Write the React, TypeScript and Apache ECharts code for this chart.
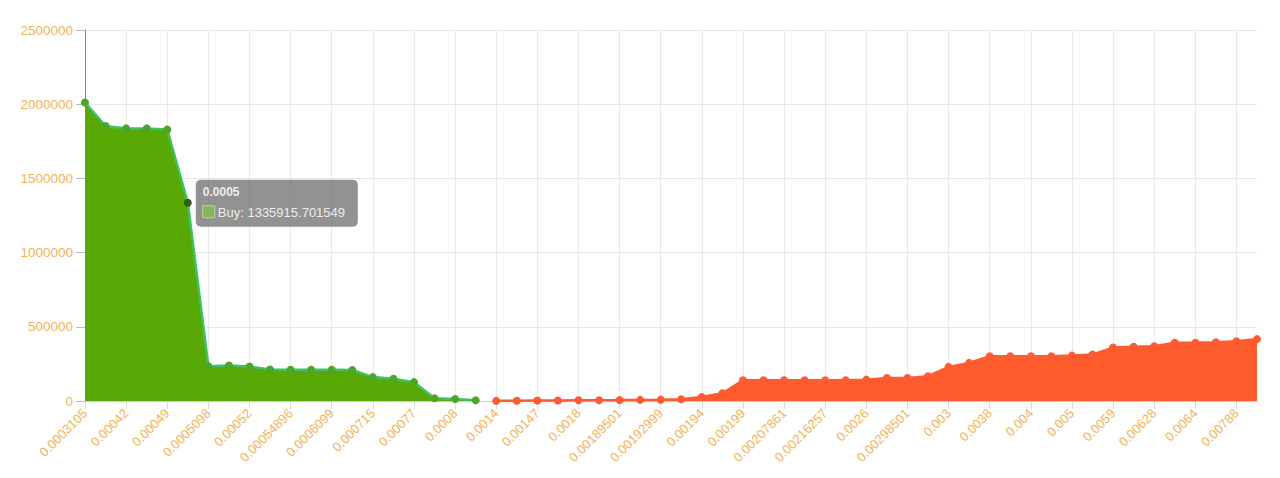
import React, { useEffect, useRef } from "react";
import * as echarts from "echarts";

const categories = [
  "0.0003105", "0.0004", "0.00042", "0.00045", "0.00049", "0.0005", "0.0005098", "0.00051",
  "0.00052", "0.00054", "0.00054896", "0.0006", "0.0006099", "0.0007", "0.000715", "0.00075",
  "0.00077", "0.00078", "0.0008", "0.00085", "0.0014", "0.00145", "0.00147", "0.0015",
  "0.0018", "0.00189", "0.00189501", "0.0019", "0.00192999", "0.00193", "0.00194", "0.00195",
  "0.00199", "0.002", "0.00207861", "0.0021", "0.00216257", "0.0025", "0.0026", "0.0028",
  "0.00298501", "0.00299", "0.003", "0.0035", "0.0038", "0.0039", "0.004", "0.0045",
  "0.005", "0.0055", "0.0059", "0.006", "0.00628", "0.0063", "0.0064", "0.007",
  "0.00788", "0.008",
];

const buyValues = [
  2011000, 1853000, 1837000, 1837000, 1830000, 1335915.701549, 235000, 239000,
  232000, 212000, 210000, 210000, 210000, 209000, 161000, 150000,
  127000, 18000, 13000, 5000,
];

const sellValues = [
  1000, 2000, 3000, 3500, 4500, 5000, 6000, 7500,
  9000, 12000, 27000, 52000, 140000, 140000, 140000, 140000,
  140000, 140000, 144000, 155000, 155000, 167000, 230000, 257000,
  302000, 302000, 302000, 302000, 306000, 313000, 360000, 365000,
  369000, 392000, 392000, 396000, 403000, 417000,
];

const tooltipIndex = 5;

const labelColor = "#f5b259";
const fontFamily = "Liberation Sans, Arial, sans-serif";

export default function App() {
  const ref = useRef<HTMLDivElement>(null);

  useEffect(() => {
    if (!ref.current) return;
    const chart = echarts.init(ref.current, undefined, { renderer: "svg" });
    const n = categories.length;
    const buyData: (number | null | object)[] = [];
    const sellData: (number | null)[] = [];
    for (let i = 0; i < n; i++) {
      if (i < buyValues.length) {
        if (i === tooltipIndex) {
          buyData.push({ value: buyValues[i], itemStyle: { color: "#2f5d12" } });
        } else {
          buyData.push(buyValues[i]);
        }
      } else buyData.push(null);
      const si = i - buyValues.length;
      sellData.push(si >= 0 && si < sellValues.length ? sellValues[si] : null);
    }

    chart.setOption({
      animation: false,
      backgroundColor: "#ffffff",
      grid: { left: 85, right: 23, top: 30, bottom: 77 },
      xAxis: {
        type: "category",
        data: categories,
        boundaryGap: false,
        axisLine: { lineStyle: { color: "#cfcfcf" } },
        axisTick: { show: true, interval: 1, length: 8, lineStyle: { color: "#d9d9d9" } },
        axisLabel: {
          interval: 1,
          rotate: 45,
          color: labelColor,
          fontSize: 13,
          fontFamily,
          margin: 10,
        },
        splitLine: { show: true, interval: 1, lineStyle: { color: "#e8e8e8" } },
      },
      yAxis: {
        type: "value",
        min: 0,
        max: 2500000,
        interval: 500000,
        axisLine: { show: true, lineStyle: { color: "#8a8a8a" } },
        axisTick: { show: true, length: 9, lineStyle: { color: "#bdbdbd" } },
        axisLabel: {
          color: labelColor,
          fontSize: 13.5,
          fontFamily,
          margin: 12,
          formatter: (v: number) => String(v),
        },
        splitLine: { show: true, lineStyle: { color: "#e8e8e8" } },
      },
      series: [
        {
          name: "Buy",
          type: "line",
          data: buyData,
          symbol: "circle",
          symbolSize: 8,
          showAllSymbol: true,
          itemStyle: { color: "#4fa52a" },
          lineStyle: { color: "#3cc35f", width: 2.5 },
          areaStyle: { color: "#58a806", opacity: 1 },
          connectNulls: false,
        },
        {
          name: "Sell",
          type: "line",
          data: sellData,
          symbol: "circle",
          symbolSize: 8,
          showAllSymbol: true,
          itemStyle: { color: "#ff5a32" },
          lineStyle: { color: "#ff5a32", width: 2.5 },
          areaStyle: { color: "#ff5c2e", opacity: 1 },
          connectNulls: false,
        },
      ],
    });

    const pt = chart.convertToPixel({ gridIndex: 0 }, [tooltipIndex, buyValues[tooltipIndex]]) as number[];
    const bx = pt[0] + 8;
    const by = pt[1] - 23;
    chart.setOption({
      graphic: [
        {
          type: "group",
          x: bx,
          y: by,
          children: [
            {
              type: "rect",
              shape: { x: 0, y: 0, width: 162, height: 47, r: 5 },
              style: { fill: "rgba(110,110,110,0.75)" },
            },
            {
              type: "text",
              x: 7,
              y: 12,
              style: {
                text: "0.0005",
                fill: "#ececec",
                font: "bold 12px Liberation Sans, Arial, sans-serif",
                verticalAlign: "middle",
              },
            },
            {
              type: "rect",
              shape: { x: 7, y: 26, width: 12, height: 12 },
              style: { fill: "#86b55a", stroke: "#b7d79a", lineWidth: 1 },
            },
            {
              type: "text",
              x: 22,
              y: 32.5,
              style: {
                text: "Buy: 1335915.701549",
                fill: "#ececec",
                font: "13px Liberation Sans, Arial, sans-serif",
                verticalAlign: "middle",
              },
            },
          ],
        },
      ],
    });

    return () => chart.dispose();
  }, []);

  return (
    <div
      ref={ref}
      style={{ position: "absolute", left: 0, top: 0, width: 1280, height: 478 }}
    />
  );
}
